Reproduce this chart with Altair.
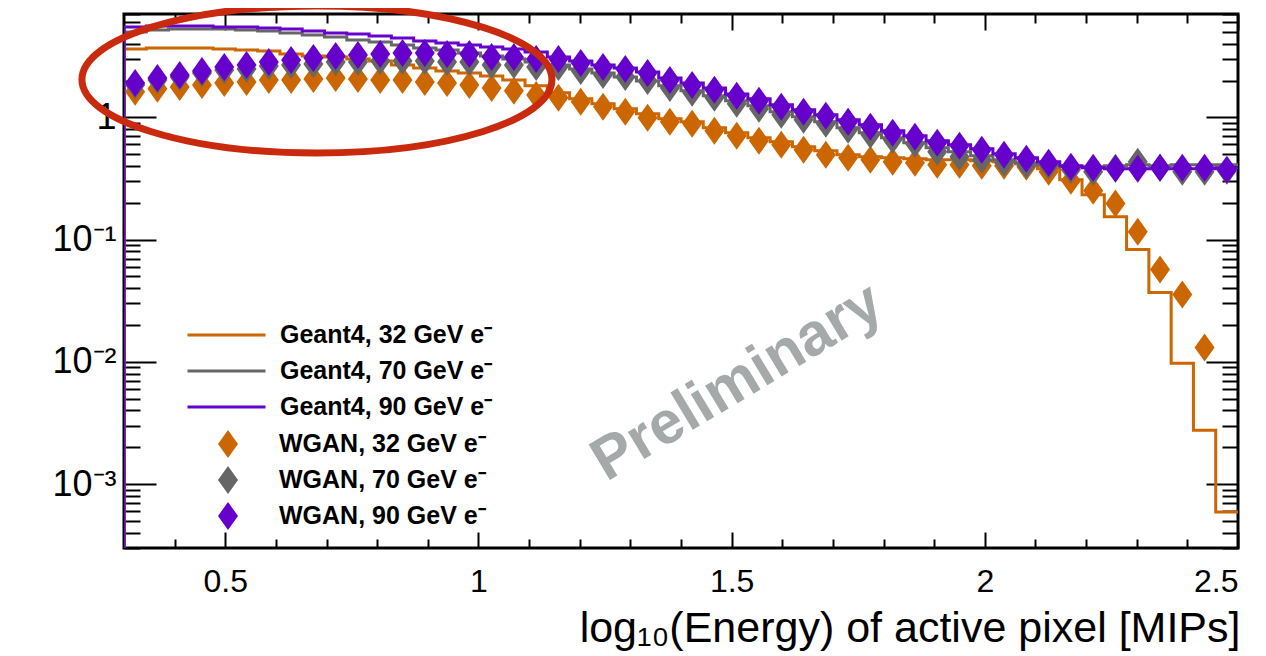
import altair as alt
import numpy as np
import pandas as pd

# ---------------- data ----------------
bin_edges = np.round(np.linspace(0.3, 2.5, 51), 3)          # 50 histogram bins
bin_centers = np.round((bin_edges[:-1] + bin_edges[1:]) / 2, 3)

series_g4 = ["Geant4, 32 GeV e⁻", "Geant4, 70 GeV e⁻", "Geant4, 90 GeV e⁻"]
series_wgan = ["WGAN, 32 GeV e⁻", "WGAN, 70 GeV e⁻", "WGAN, 90 GeV e⁻"]
colors = ["#cc6600", "#666666", "#6600cc"]

g4_32 = [3.625, 3.693, 3.693, 3.693, 3.625, 3.556, 3.491, 3.299, 3.177, 3.118,
         3.003, 2.892, 2.683, 2.536, 2.397, 2.308, 2.182, 2.024, 1.808, 1.585,
         1.416, 1.289, 1.173, 1.068, 0.972, 0.919, 0.821, 0.747, 0.680, 0.631,
         0.574, 0.533, 0.494, 0.476, 0.467, 0.458, 0.450, 0.450, 0.441, 0.433,
         0.417, 0.380, 0.309, 0.233, 0.154, 0.0829, 0.0369, 0.00972, 0.00276, 0.000591]
g4_70 = [4.989, 5.180, 5.278, 5.278, 5.278, 5.180, 5.083, 4.896, 4.716, 4.541,
         4.293, 4.134, 3.906, 3.693, 3.556, 3.361, 3.177, 3.003, 2.839, 2.683,
         2.489, 2.308, 2.141, 1.986, 1.808, 1.646, 1.498, 1.364, 1.241, 1.109,
         1.009, 0.919, 0.821, 0.747, 0.680, 0.619, 0.564, 0.523, 0.485, 0.450,
         0.425, 0.410, 0.394, 0.394, 0.402, 0.410, 0.402, 0.410, 0.410, 0.410]
g4_90 = [5.479, 5.582, 5.582, 5.582, 5.479, 5.479, 5.378, 5.278, 5.083, 4.896,
         4.805, 4.627, 4.457, 4.212, 4.057, 3.906, 3.763, 3.625, 3.425, 3.118,
         2.892, 2.683, 2.536, 2.352, 2.101, 1.913, 1.741, 1.555, 1.416, 1.265,
         1.151, 1.048, 0.954, 0.869, 0.776, 0.706, 0.643, 0.596, 0.553, 0.504,
         0.467, 0.433, 0.402, 0.387, 0.380, 0.380, 0.380, 0.380, 0.380, 0.387]

wgan_32 = [1.615, 1.709, 1.774, 1.842, 1.913, 1.949, 2.024, 2.024, 2.062, 2.101,
           2.062, 2.024, 2.024, 1.949, 1.913, 1.842, 1.741, 1.646, 1.526, 1.443,
           1.338, 1.218, 1.109, 0.991, 0.919, 0.885, 0.776, 0.706, 0.643, 0.596,
           0.543, 0.494, 0.467, 0.450, 0.433, 0.425, 0.410, 0.410, 0.402, 0.402,
           0.394, 0.359, 0.303, 0.251, 0.197, 0.116, 0.0569, 0.0356, 0.0131, None]
wgan_70 = [1.842, 2.024, 2.141, 2.308, 2.442, 2.489, 2.633, 2.683, 2.734, 2.839,
           2.839, 2.892, 2.892, 2.892, 2.839, 2.839, 2.683, 2.683, 2.584, 2.584,
           2.397, 2.223, 2.141, 1.986, 1.741, 1.585, 1.443, 1.289, 1.173, 1.048,
           0.954, 0.885, 0.791, 0.720, 0.655, 0.608, 0.523, 0.476, 0.450, 0.425,
           0.410, 0.402, 0.373, 0.359, 0.387, 0.433, 0.387, 0.359, 0.359, 0.366]
wgan_90 = [1.913, 2.101, 2.223, 2.397, 2.584, 2.683, 2.839, 2.947, 3.060, 3.177,
           3.237, 3.299, 3.361, 3.361, 3.299, 3.299, 3.118, 3.118, 3.003, 3.003,
           2.786, 2.584, 2.489, 2.308, 2.024, 1.842, 1.677, 1.498, 1.364, 1.218,
           1.109, 1.029, 0.919, 0.836, 0.747, 0.693, 0.619, 0.585, 0.543, 0.494,
           0.458, 0.425, 0.394, 0.387, 0.380, 0.380, 0.387, 0.387, 0.387, 0.373]

floor_value = 1e-4   # empty histogram level before the first bin

x_major = [0.5, 1.0, 1.5, 2.0, 2.5]
x_minor = [0.4, 0.6, 0.7, 0.8, 0.9, 1.1, 1.2, 1.3, 1.4, 1.6, 1.7, 1.8, 1.9,
           2.1, 2.2, 2.3, 2.4]
y_major = [0.001, 0.01, 0.1, 1]
y_minor = [k * 10.0 ** e for e in [-4, -3, -2, -1, 0] for k in range(2, 10)
           if 3e-4 <= k * 10.0 ** e <= 7]

X_DOM = [0.3, 2.5]
Y_DOM = [3e-4, 7]

ellipse_center = pd.DataFrame({"x": [0.681], "y": [2.04]})
watermark = pd.DataFrame({"x": [1.511], "y": [0.0068], "text": ["Preliminary"]})

# ---------------- tables ----------------
rows = []
for name, vals in zip(series_g4, [g4_32, g4_70, g4_90]):
    rows.append({"series": name, "idx": 0, "x": float(bin_edges[0]), "y": floor_value})
    for i, v in enumerate(vals):
        rows.append({"series": name, "idx": i + 1, "x": float(bin_edges[i]), "y": v})
    rows.append({"series": name, "idx": len(vals) + 1, "x": float(bin_edges[-1]), "y": vals[-1]})
lines_df = pd.DataFrame(rows)

prow = []
for name, vals in zip(series_wgan, [wgan_32, wgan_70, wgan_90]):
    for c, v in zip(bin_centers, vals):
        if v is not None:
            prow.append({"series": name, "x": float(c), "y": v})
points_df = pd.DataFrame(prow)

# ---------------- styles ----------------
DIAMOND = "M0,-1L0.714,0L0,1L-0.714,0Z"
ELLIPSE = "M-1,0A1,0.313,0,1,0,1,0A1,0.313,0,1,0,-1,0Z"
FONT = "Liberation Sans"

xs = alt.Scale(domain=X_DOM, nice=False, zero=False)
ys = alt.Scale(type="log", domain=Y_DOM, nice=False)


def tick_axis(orient, values, size):
    return alt.Axis(orient=orient, values=values, tickSize=size, offset=-size,
                    labels=False, domain=False, grid=False, title=None,
                    tickColor="black", tickWidth=2)


ax_x_labels = alt.Axis(orient="bottom", values=x_major, format="~g", tickSize=0,
                       domain=False, grid=False, labelFontSize=32, labelPadding=18,
                       labelColor="black", labelFont=FONT,
                       title="log₁₀(Energy) of active pixel [MIPs]",
                       titleFontSize=43, titleFontWeight="normal", titleFont=FONT,
                       titleColor="black", titleAnchor="end", titleAlign="right",
                       titleBaseline="alphabetic", titleX=1116, titleY=93)
ax_y_labels = alt.Axis(orient="left", values=y_major, tickSize=0, domain=False,
                       grid=False, labelFontSize=36, labelPadding=8,
                       labelColor="black", labelFont=FONT, title=None,
                       labelExpr="datum.value >= 1 ? '1' : datum.value >= 0.1 ? '10⁻¹' : datum.value >= 0.01 ? '10⁻²' : '10⁻³'")

leg_lines = alt.Legend(orient="none", legendX=62, legendY=303, title=None,
                       symbolType="stroke", symbolSize=6084, symbolStrokeWidth=3,
                       clipHeight=36, rowPadding=0, padding=0,
                       labelFontSize=25, labelFontWeight="bold", labelFont=FONT,
                       labelColor="black", labelOffset=13, labelLimit=400)
leg_points = alt.Legend(orient="none", legendX=90, legendY=412, title=None,
                        symbolType=DIAMOND, symbolSize=784, symbolStrokeWidth=0,
                        clipHeight=36, rowPadding=0, padding=0,
                        labelFontSize=25, labelFontWeight="bold", labelFont=FONT,
                        labelColor="black", labelOffset=37, labelLimit=400)

# ---------------- layers ----------------
lines = alt.Chart(lines_df).mark_line(interpolate="step-after", strokeWidth=3, clip=True).encode(
    x=alt.X("x:Q", scale=xs, axis=ax_x_labels),
    y=alt.Y("y:Q", scale=ys, axis=ax_y_labels),
    stroke=alt.Stroke("series:N", scale=alt.Scale(domain=series_g4, range=colors), legend=leg_lines),
    order=alt.Order("idx:Q"),
)

points = alt.Chart(points_df).mark_point(shape=DIAMOND, filled=True, size=784,
                                         strokeWidth=0, opacity=1, clip=True).encode(
    x=alt.X("x:Q", scale=xs, axis=tick_axis("bottom", x_major, 16)),
    y=alt.Y("y:Q", scale=ys, axis=tick_axis("left", y_major, 32)),
    fill=alt.Fill("series:N", scale=alt.Scale(domain=series_wgan, range=colors), legend=leg_points),
)

ellipse = alt.Chart(ellipse_center).mark_point(shape=ELLIPSE, size=220900, filled=False,
                                               stroke="#c92a0e", strokeWidth=7, opacity=1).encode(
    x=alt.X("x:Q", scale=xs, axis=tick_axis("bottom", x_minor, 9)),
    y=alt.Y("y:Q", scale=ys, axis=tick_axis("left", y_minor, 16)),
)

prelim = alt.Chart(watermark).mark_text(angle=329, fontSize=60, fontWeight="bold",
                                        font=FONT, color="#a5a9a9").encode(
    x=alt.X("x:Q", scale=xs, axis=tick_axis("top", x_major, 16)),
    y=alt.Y("y:Q", scale=ys, axis=tick_axis("right", y_major, 32)),
    text="text:N",
)

dummy = alt.Chart(watermark).mark_point(opacity=0).encode(
    x=alt.X("x:Q", scale=xs, axis=tick_axis("top", x_minor, 9)),
    y=alt.Y("y:Q", scale=ys, axis=tick_axis("right", y_minor, 16)),
)

chart = alt.layer(lines, points, ellipse, prelim, dummy).resolve_axis(
    x="independent", y="independent"
).properties(
    width=1114, height=534, autosize="none",
    padding={"left": 116, "top": 6, "right": 20, "bottom": 104},
).configure(font=FONT).configure_view(stroke="black", strokeWidth=3)

chart.save("out.html", embed_options={"renderer": "svg", "actions": False})
